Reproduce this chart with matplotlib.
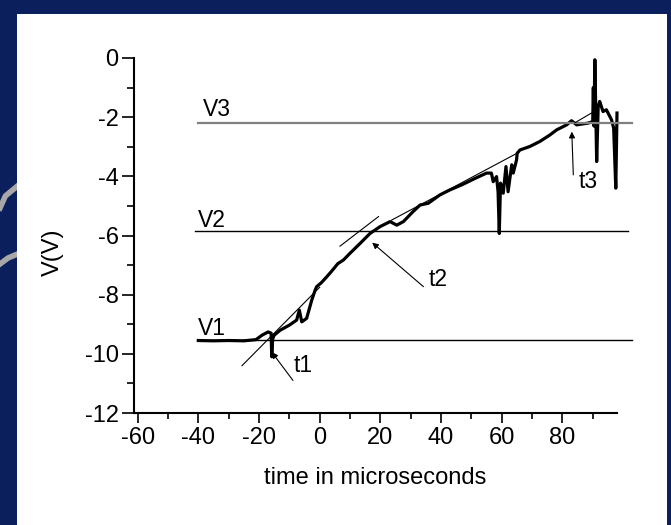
import matplotlib
matplotlib.use("Agg")
import matplotlib.pyplot as plt
from matplotlib.patches import Rectangle
from matplotlib.lines import Line2D

plt.rcParams['font.family'] = ['Liberation Sans', 'DejaVu Sans']
plt.rcParams['axes.unicode_minus'] = False

# trace (time in us, voltage in V)
time_us = [-40, -35, -30, -25, -21, -19, -17, -16, -15.8, -15.5, -15, -13, -10,
           -7.6, -6.7, -5.9, -4.3, -2.6, -1.5, -1.0, 0.5, 2.3, 4, 6, 7.8, 10,
           13.3, 16.6, 19.9, 23.2, 25.4, 27.6, 30.8, 33.1, 35.8, 39.6, 42.9,
           47, 51, 55, 56.6, 57.2, 58.3, 58.8, 59.2, 59.6, 60.5, 61.4, 62.1,
           63.3, 63.8, 64.9, 65.1, 66.0, 69.3, 72.6, 75.9, 78.1, 81.4, 83.0,
           84.7, 88.5, 90.0, 90.2, 90.4, 90.7, 91.3, 91.8, 92.3, 93.4, 94.5,
           96.2, 96.9, 97.6, 98.0]
volts = [-9.55, -9.56, -9.55, -9.56, -9.52, -9.37, -9.26, -9.3, -10.1, -9.5,
         -9.37, -9.2, -9.03, -8.86, -8.52, -8.92, -8.8, -8.18, -7.85, -7.73,
         -7.6, -7.4, -7.2, -6.95, -6.83, -6.6, -6.27, -5.93, -5.70, -5.53,
         -5.65, -5.53, -5.19, -4.97, -4.91, -4.63, -4.46, -4.28, -4.08, -3.89,
         -3.89, -4.18, -4.01, -4.52, -5.93, -4.23, -4.57, -3.67, -4.52, -3.61,
         -3.89, -3.44, -3.22, -3.11, -2.99, -2.82, -2.60, -2.43, -2.26, -2.12,
         -2.26, -2.20, -2.15, -1.0, -2.3, -0.06, -3.50, -1.64, -1.47, -1.81,
         -1.75, -2.09, -2.37, -4.40, -1.86]

# reference levels
levels = {'V1': -9.52, 'V2': -5.85, 'V3': -2.2}
level_spans = {'V1': (-40, 103), 'V2': (-41, 101.6), 'V3': (-40, 103)}
level_labels = {'V1': (-40, -9.15), 'V2': (-40, -5.48), 'V3': (-38.5, -1.75)}

# tangent lines
tangents = [((-25.6, -10.4), (0.0, -7.75)),
            ((6.7, -6.36), (19.4, -5.36)),
            ((23.7, -5.48), (65.4, -3.2)),
            ((84.1, -2.19), (89.6, -1.86))]

# arrows: label, label pos, arrow start, arrow tip
arrows = [('t1', (-5.5, -10.4), (-8.8, -10.9), (-15.8, -9.94)),
          ('t2', (39.2, -7.48), (34.2, -7.73), (17.3, -6.24)),
          ('t3', (88.6, -4.18), (83.6, -3.95), (83.1, -2.49))]

fig = plt.figure(figsize=(6.71, 5.25), dpi=100)
fig.patch.set_facecolor('#0b1f5c')

# decorative grey arcs at left edge, then the white panel
fig.add_artist(Line2D([0, 0.008, 0.026], [1 - 208/525, 1 - 196/525, 1 - 186/525],
                      transform=fig.transFigure, color='#a8a8a8', lw=4, zorder=-3))
fig.add_artist(Line2D([0, 0.012, 0.026], [1 - 264/525, 1 - 258/525, 1 - 254/525],
                      transform=fig.transFigure, color='#a8a8a8', lw=4, zorder=-3))
fig.add_artist(Rectangle((17/671, 0), 650/671, 511/525, transform=fig.transFigure,
                         facecolor='white', edgecolor='none', zorder=-2))

ax = fig.add_axes([134/671, 1 - 413/525, 483/671, 355/525])
ax.set_zorder(1)
ax.set_facecolor('none')

ax.plot(time_us, volts, color='black', lw=2.3, clip_on=False, solid_joinstyle='round')

for name, lvl in levels.items():
    x0, x1 = level_spans[name]
    col = '#808080' if name == 'V3' else 'black'
    lw = 1.6 if name == 'V3' else 1.0
    ax.plot([x0, x1], [lvl, lvl], color=col, lw=lw, clip_on=False)
    lx, ly = level_labels[name]
    ax.text(lx, ly, name, fontsize=16.5, ha='left', va='center')

for (xa, ya), (xb, yb) in tangents:
    ax.plot([xa, xb], [ya, yb], color='black', lw=0.8, clip_on=False)

for lab, (tx, ty), (sx, sy), (ex, ey) in arrows:
    ax.annotate('', xy=(ex, ey), xytext=(sx, sy),
                arrowprops=dict(arrowstyle='-|>', color='black', lw=0.8,
                                mutation_scale=9, shrinkA=0, shrinkB=0))
    ax.text(tx, ty, lab, fontsize=16.5, ha='center', va='center')

ax.set_xlim(-61.2, 98)
ax.set_ylim(-12, 0)
for s in ['top', 'right']:
    ax.spines[s].set_visible(False)
for s in ['left', 'bottom']:
    ax.spines[s].set_linewidth(1.5)

ax.set_xticks(range(-60, 81, 20))
ax.set_xticks(range(-50, 91, 20), minor=True)
ax.set_yticks(range(-12, 1, 2))
ax.set_yticks(range(-11, 0, 2), minor=True)
ax.tick_params(axis='x', which='major', length=7, width=1.2, pad=3, labelsize=17)
ax.tick_params(axis='x', which='minor', length=4, width=1.2)
ax.tick_params(axis='y', which='major', length=9, width=1.2, pad=2, labelsize=17)
ax.tick_params(axis='y', which='minor', length=5, width=1.2)

ax.set_xlabel('time in microseconds', fontsize=17, labelpad=13)
ax.set_ylabel('V(V)', fontsize=17)
ax.yaxis.set_label_coords(-0.145, 0.4535)

fig.savefig('out.png', dpi=100, facecolor=fig.get_facecolor())
